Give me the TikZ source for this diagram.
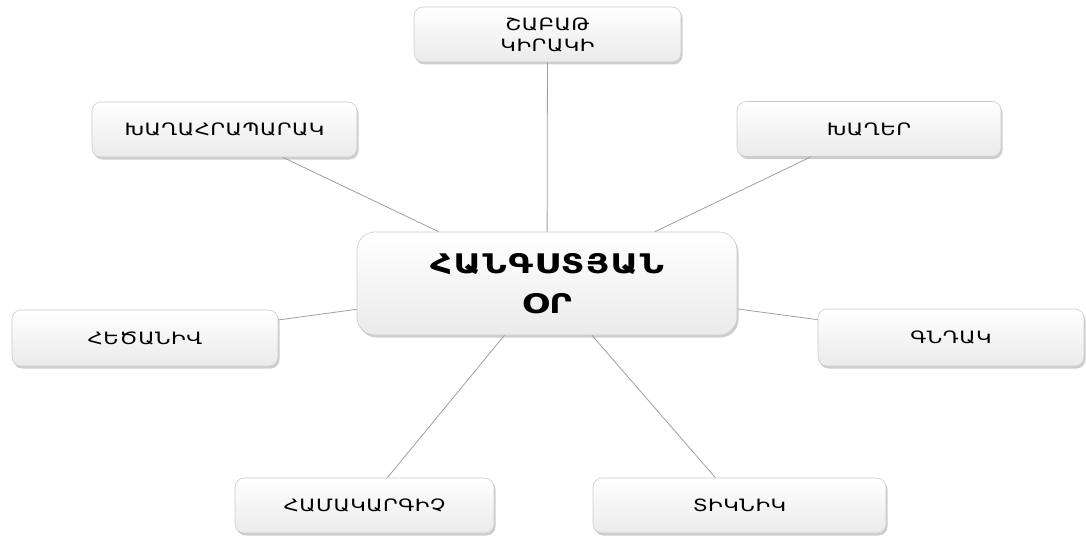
\documentclass[tikz,border=0pt]{standalone}
\usepackage{fontspec}
\setmainfont{DejaVu Sans}
\newfontfamily\smallarm[LetterSpace=3,FakeStretch=1.25]{DejaVu Sans}
\newfontfamily\bigarm[LetterSpace=6,FakeStretch=1.25]{DejaVu Sans}
\usetikzlibrary{shadows}
\begin{document}
\begin{tikzpicture}[x=1pt,y=-1pt,
  box/.style={draw=gray!40, line width=0.6pt, rounded corners=9pt,
    top color=white, bottom color=gray!16, drop shadow={shadow xshift=1.5pt, shadow yshift=-2.5pt, fill=gray!70, opacity=0.55},
    minimum width=265pt, minimum height=55pt, inner sep=2pt, align=center,
    font=\smallarm\fontsize{17}{21}\selectfont},
  link/.style={draw=gray!75, line width=0.8pt}]
\useasboundingbox (0,0) rectangle (1086,535);
\node[box, minimum width=267pt] (t) at (547.5,34.5) {ՇԱԲԱԹ\\ԿԻՐԱԿԻ};
\node[box] (ul) at (224.5,129.5) {ԽԱՂԱՀՐԱՊԱՐԱԿ};
\node[box, minimum width=264pt] (ur) at (869,129) {ԽԱՂԵՐ};
\node[box, minimum width=380pt, minimum height=103pt, rounded corners=18pt,
  font=\bigarm\fontsize{27}{40}\selectfont\bfseries] (c) at (547,283.5) {ՀԱՆԳՍՏՅԱՆ\\ՕՐ};
\node[box, minimum width=266pt, minimum height=56pt] (l) at (145,338) {ՀԵԾԱՆԻՎ};
\node[box, minimum width=266pt, minimum height=57pt] (r) at (951,337.5) {ԳՆԴԱԿ};
\node[box, minimum width=259pt] (bl) at (364.5,505.5) {ՀԱՄԱԿԱՐԳԻՉ};
\node[box, minimum width=293pt] (br) at (739.5,505.5) {ՏԻԿՆԻԿ};
\draw[link] (t) -- (c);
\draw[link] (ul) -- (c);
\draw[link] (ur) -- (c);
\draw[link] (l) -- (c);
\draw[link] (r) -- (c);
\draw[link] (bl) -- (c);
\draw[link] (br) -- (c);
\end{tikzpicture}
\end{document}
